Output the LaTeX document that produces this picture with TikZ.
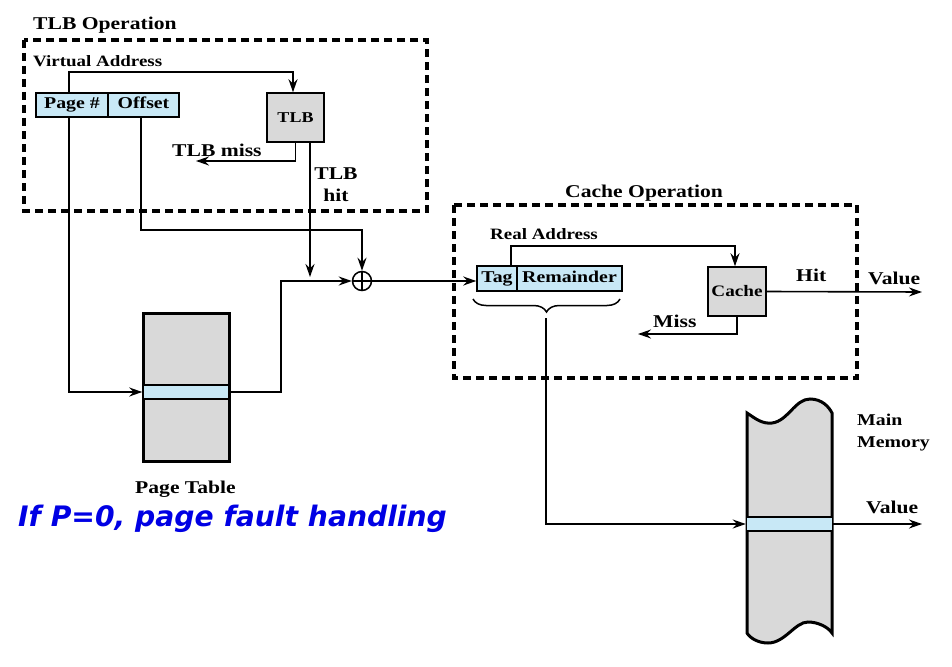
\documentclass[tikz,border=0pt]{standalone}
\usepackage{fontspec}
\setmainfont[FakeStretch=1.2]{Liberation Serif}
\newfontfamily\bluefont{DejaVu Sans}
\usetikzlibrary{arrows.meta,decorations.pathreplacing}
\definecolor{boxblue}{RGB}{200,232,246}
\definecolor{boxgray}{RGB}{217,217,217}
\definecolor{txtblue}{RGB}{0,0,228}
\tikzset{
  arr/.style={line width=1.6pt,-{Stealth[length=13pt,width=9pt]}},
  frame/.style={line width=3.2pt,dash pattern=on 8pt off 5pt},
  field/.style={draw,line width=1.5pt,fill=boxblue,minimum height=24pt,inner sep=0pt,
    text height=11pt,text depth=3.5pt,
    font=\bfseries\fontsize{16.5}{16.5}\selectfont},
  unit/.style={draw,line width=1.5pt,fill=boxgray,inner sep=0pt,
    font=\bfseries\fontsize{16}{16}\selectfont},
  entry/.style={draw,line width=1.5pt,fill=boxblue,minimum height=14pt,inner sep=0pt},
  lbl/.style={inner sep=0pt,font=\bfseries\fontsize{18}{22}\selectfont},
  small/.style={inner sep=0pt,font=\bfseries\fontsize{15.8}{20}\selectfont},
}
\begin{document}
\begin{tikzpicture}[x=1pt,y=-1pt]
\useasboundingbox (0,0) rectangle (952,666);
% frames
\draw[frame] (24,40) rectangle (427,211);
\draw[frame] (454,205) rectangle (857,378);
\node[lbl,anchor=base west] (tlbtitle) at (33,30) {TLB Operation};
\node[lbl,anchor=base west] (cachetitle) at (565,197) {Cache Operation};
\node[small,anchor=base west] (va) at (33,67) {Virtual Address};
\node[small,anchor=base west] (ra) at (490,239) {Real Address};
% virtual address fields
\node[field,minimum width=72pt] (pn) at (72,105) {Page \#};
\node[field,minimum width=71pt] (off) at (143.5,105) {Offset};
\node[unit,minimum width=57pt,minimum height=49pt,font=\bfseries\fontsize{15}{15}\selectfont] (tlb) at (295.5,117.5) {TLB};
% page table
\node[draw,line width=3pt,fill=boxgray,minimum width=86pt,minimum height=148pt,inner sep=0pt] (pt) at (186,387) {};
\node[entry,minimum width=86pt] (pte) at (186,392) {};
\node[lbl,anchor=base west] (ptl) at (135,493) {Page Table};
% adder
\node[draw,circle,line width=1.5pt,minimum size=19pt,inner sep=0pt] (circ) at (362,281) {};
\draw[line width=1.5pt] (circ.north) -- (circ.south) (circ.west) -- (circ.east);
% real address fields
\node[field,minimum width=40pt,minimum height=25pt] (tag) at (497,278.5) {Tag};
\node[field,minimum width=105pt,minimum height=25pt] (rem) at (569.5,278.5) {Remainder};
\node[unit,minimum width=58pt,minimum height=49pt] (cache) at (737,291.5) {Cache};
% main memory
\draw[line width=3pt,fill=boxgray] (747,413) .. controls (756,419) and (762,424) .. (772,423)
  .. controls (788,421) and (795,399) .. (810,399) .. controls (822,399) and (829,407) .. (832,413)
  -- (832,633) .. controls (828,627) and (818,622) .. (808,622)
  .. controls (795,622) and (785,643) .. (768,643) .. controls (758,643) and (750,638) .. (747,633) -- cycle;
\node[entry,minimum width=86pt] (mme) at (789.5,524) {};
\node[inner sep=0pt,anchor=north west,align=left,font=\bfseries\fontsize{16.5}{22}\selectfont] (mml) at (857,414) {Main\\Memory};
% coordinates for free ends
\coordinate (missend) at (196,161);
\coordinate (hitend) at (310,277);
\coordinate (cmissend) at (638,334);
\coordinate (valend) at (922,292);
\coordinate (val2end) at (922,524);
\coordinate (btip) at (546,318);
% labels
\node[lbl,anchor=base west] (tlbmiss) at (172,156) {TLB miss};
\node[lbl,align=center,anchor=north] (tlbhit) at (336,168) {TLB\\hit};
\node[lbl,anchor=base west] (hitl) at (796,281) {Hit};
\node[lbl,anchor=base west] (vall) at (868,284) {Value};
\node[lbl,anchor=base west] (missl) at (653,327) {Miss};
\node[lbl,anchor=base west] (val2l) at (866,513) {Value};
\node[inner sep=0pt,anchor=base west,text=txtblue,font=\bluefont\bfseries\itshape\fontsize{28.2}{28.2}\selectfont] (note) at (18,526) {If P=0, page fault handling};
% connectors
\draw[arr] ([xshift=-3pt]pn.north) -- ++(0,-20) -| ([xshift=-2.5pt]tlb.north);
\draw[arr] (tlb.south) |- (missend);
\draw[arr] (tlb.south -| hitend) -- (hitend);
\draw[arr] ([xshift=-2.5pt]off.south) -- ++(0,112) -| (circ.north);
\draw[arr] ([xshift=-3pt]pn.south) |- (pte.west);
\draw[arr] (pte.east) -- ++(51,0) |- (circ.west);
\draw[arr] (circ.east) -- (circ.east -| tag.west);
\draw[arr] ([xshift=14pt]tag.north) -- ++(0,-19) -| ([xshift=-2pt]cache.north);
\draw[arr] (cache.east) -- (valend);
\draw[arr] (cache.south) |- (cmissend);
\draw[line width=1.5pt,decorate,decoration={brace,amplitude=13pt,mirror}] (473,299) -- (620,299);
\draw[arr] (btip) |- (mme.west);
\draw[arr] (mme.east) -- (val2end);
\end{tikzpicture}
\end{document}
